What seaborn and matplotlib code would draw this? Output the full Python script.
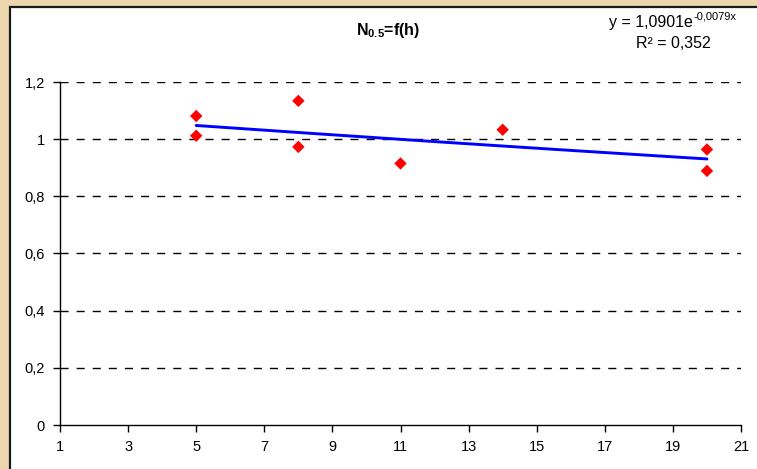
import numpy as np
import pandas as pd
import matplotlib
matplotlib.use("Agg")
import matplotlib.pyplot as plt
from matplotlib.patches import Rectangle
import seaborn as sns

# Measured points: height h vs N0.5
h_values = [5, 5, 8, 8, 11, 14, 20, 20]
n_values = [1.081, 1.012, 1.134, 0.973, 0.915, 1.033, 0.964, 0.889]

# Exponential trendline coefficients: y = a * exp(b * x)
fit_a = 1.0901
fit_b = -0.0079
r_squared = 0.352

x_ticks = [1, 3, 5, 7, 9, 11, 13, 15, 17, 19, 21]
y_ticks = [0, 0.2, 0.4, 0.6, 0.8, 1.0, 1.2]
y_tick_labels = ["0", "0,2", "0,4", "0,6", "0,8", "1", "1,2"]

sns.set_style("white")
plt.rcParams["font.family"] = ["Liberation Sans", "DejaVu Sans"]
plt.rcParams["mathtext.fontset"] = "custom"
plt.rcParams["mathtext.rm"] = "Liberation Sans"
plt.rcParams["mathtext.bf"] = "Liberation Sans:bold"
plt.rcParams["text.color"] = "black"

fig = plt.figure(figsize=(7.57, 4.69), dpi=100)
fig.patch.set_facecolor("#EDD6AE")

# White chart panel with a dark frame
panel = Rectangle((10 / 757, -0.05), 1.2, 1.05 - 7.5 / 469,
                  transform=fig.transFigure, facecolor="white",
                  edgecolor="#1a1a1a", linewidth=1.6, zorder=-5)
fig.patches.append(panel)

ax = fig.add_axes([60 / 757, (469 - 425) / 469, (741 - 60) / 757, (425 - 82) / 469])
ax.set_facecolor("none")
ax.set_zorder(2)

df = pd.DataFrame({"h": h_values, "N": n_values})
trend_x = np.linspace(min(h_values), max(h_values), 200)
trend = pd.DataFrame({"h": trend_x, "N": fit_a * np.exp(fit_b * trend_x)})

for yv in y_ticks[1:]:
    ax.axhline(yv, color="black", linewidth=1.0, linestyle=(0, (5.8, 5.8)), zorder=1)

sns.lineplot(data=trend, x="h", y="N", ax=ax, color="#0000FF", linewidth=2.1, zorder=3)
sns.scatterplot(data=df, x="h", y="N", ax=ax, color="#FF0000", marker="D", s=40,
                edgecolor="none", zorder=4)

ax.set_xlim(1, 21)
ax.set_ylim(0, 1.2)
ax.set_xticks(x_ticks)
ax.set_xticklabels([str(v) for v in x_ticks])
ax.set_yticks(y_ticks)
ax.set_yticklabels(y_tick_labels)
ax.set_xlabel("")
ax.set_ylabel("")
for side in ["top", "right"]:
    ax.spines[side].set_visible(False)
for side in ["left", "bottom"]:
    ax.spines[side].set_color("black")
    ax.spines[side].set_linewidth(1.0)
ax.tick_params(axis="both", which="major", direction="out", length=5, width=1,
               color="black", labelsize=10.5, labelcolor="black", pad=6)
ax.tick_params(axis="x", bottom=True)
ax.tick_params(axis="y", left=True)

# Title
fig.text(388 / 757, 1 - 30 / 469, r"N$_{\mathbf{0.5}}$=f(h)", ha="center", va="center",
         fontsize=11.5, fontweight="bold")

# Trendline equation and R²
eq = fig.text(693 / 757, 1 - 22 / 469, "y = 1,0901e", ha="right", va="center", fontsize=11.5)
fig.add_artist(matplotlib.text.Annotation("-0,0079x", xy=(1.0, 0.55), xycoords=eq,
                                          ha="left", va="bottom", fontsize=8))
fig.text(673 / 757, 1 - 43 / 469, "R\u00b2 = 0,352", ha="center", va="center", fontsize=11.5)

fig.savefig("out.png", dpi=100, facecolor=fig.get_facecolor())
